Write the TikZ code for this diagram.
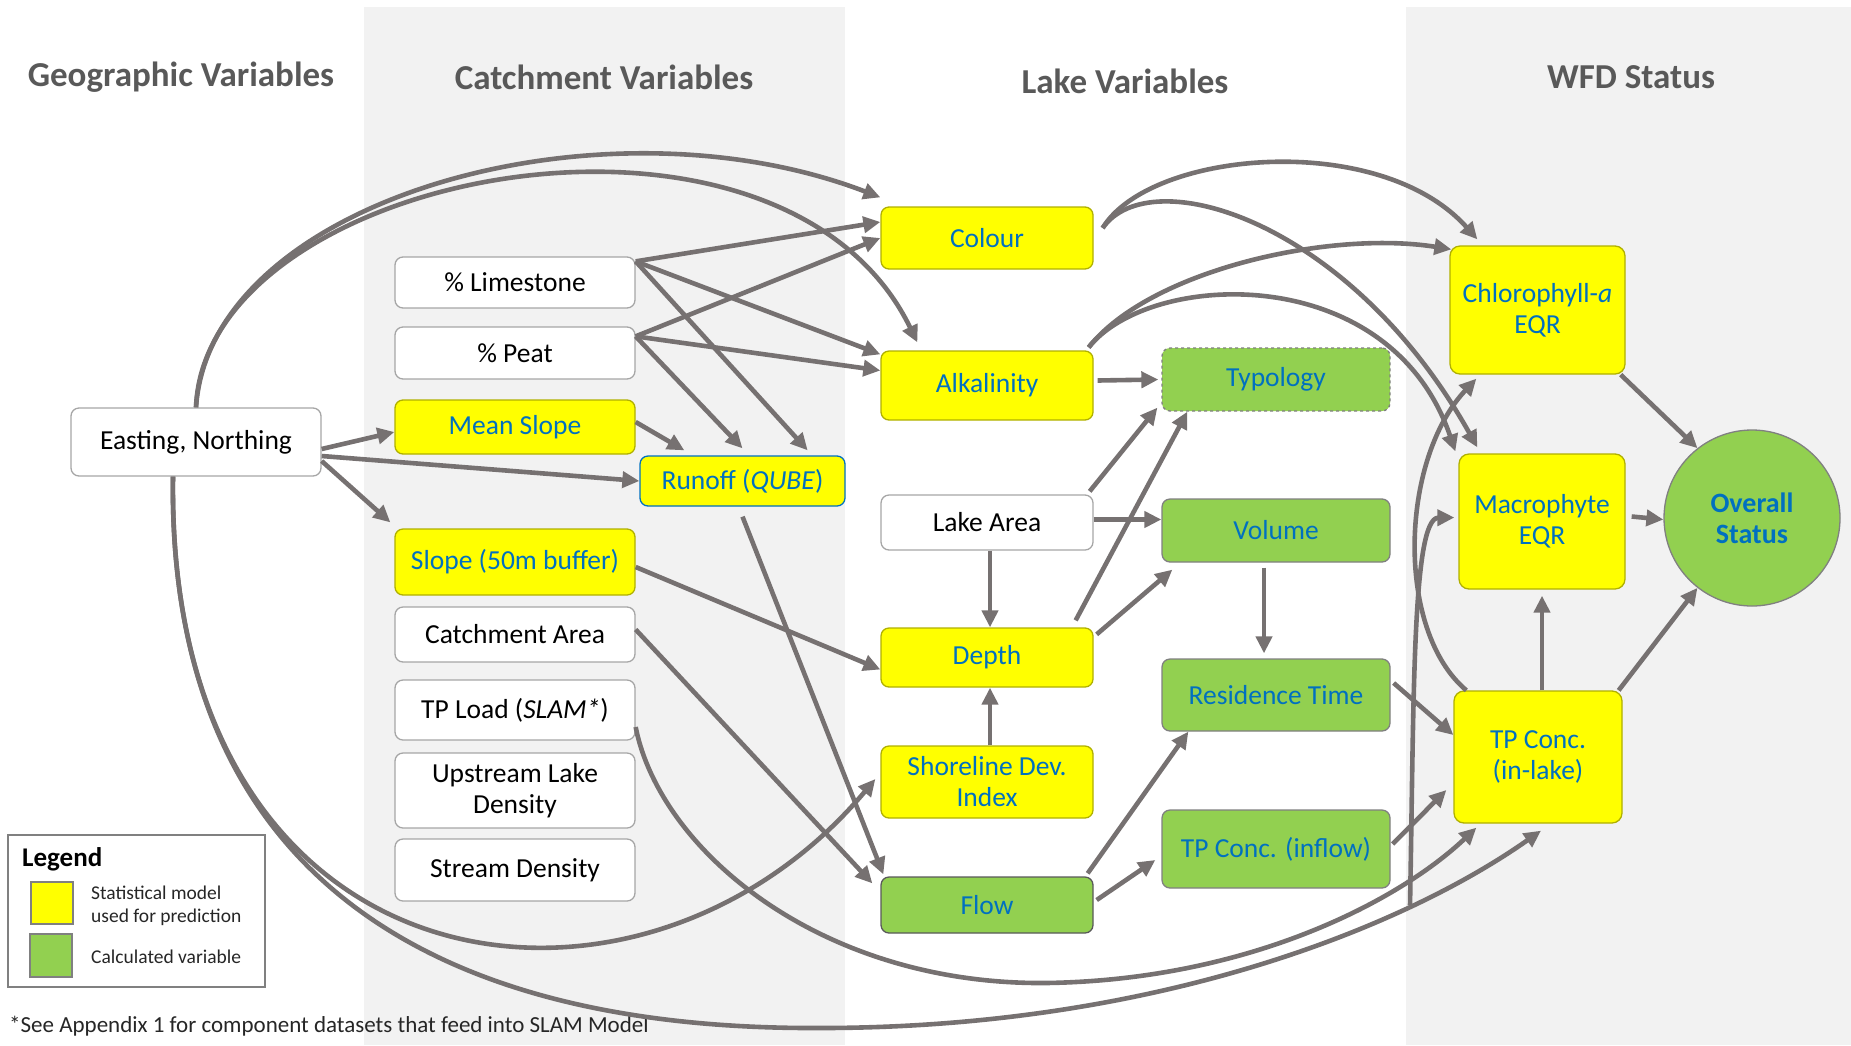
\documentclass[tikz,border=0pt]{standalone}
\usepackage{fontspec}
\setmainfont{Carlito}
\usetikzlibrary{arrows.meta}
\definecolor{agray}{HTML}{767171}
\definecolor{band}{HTML}{F2F2F2}
\definecolor{yel}{HTML}{FFFF00}
\definecolor{grn}{HTML}{92D050}
\definecolor{tblue}{HTML}{0070C0}
\definecolor{wborder}{HTML}{A6A6A6}
\definecolor{yborder}{HTML}{B0B000}
\definecolor{gborder}{HTML}{808080}
\definecolor{ttl}{HTML}{595959}
\definecolor{dtext}{HTML}{262626}
\begin{document}
\begin{tikzpicture}[x=1pt,y=-1pt,
  box/.style={rounded corners=8pt, inner sep=2pt, align=center, line width=1.3pt, font=\fontsize{27.5}{31}\selectfont},
  wbox/.style={box, draw=wborder, fill=white, text=black},
  ybox/.style={box, draw=yborder, fill=yel, text=tblue},
  gbox/.style={box, draw=gborder, fill=grn, text=tblue},
  sz/.style 2 args={minimum width=#1pt, minimum height=#2pt},
  arr/.style={draw=agray, line width=4.6pt, -{Triangle[length=17pt,width=16pt]}},
  title/.style={font=\fontsize{35}{40}\selectfont\bfseries, text=ttl, inner sep=0pt},
  leg/.style={font=\fontsize{19.5}{23}\selectfont, text=dtext, inner sep=0pt, anchor=west, align=left}
]
\useasboundingbox (0,0) rectangle (1851,1045);
% background bands
\fill[band] (364,7) rectangle (845,1045);
\fill[band] (1406,7) rectangle (1851,1045);
% titles
\node[title] (t1) at (181,77) {Geographic Variables};
\node[title] (t2) at (604,77) {Catchment Variables};
\node[title] (t3) at (1125,81) {Lake Variables};
\node[title] (t4) at (1631,77) {WFD Status};
% geographic
\node[wbox, sz={250}{68}] (east) at (196,442) {Easting, Northing};
% catchment
\node[wbox, sz={240}{51}] (lime) at (515,282.5) {\% Limestone};
\node[wbox, sz={240}{52}] (peat) at (515,353) {\% Peat};
\node[ybox, sz={240}{54}] (mslope) at (515,427) {Mean Slope};
\node[ybox, draw=tblue, sz={205}{50}] (runoff) at (742.5,481) {Runoff (\textit{QUBE})};
\node[ybox, sz={240}{66}] (slope50) at (515,562) {Slope (50m buffer)};
\node[wbox, sz={240}{55}] (carea) at (515,634.5) {Catchment Area};
\node[wbox, sz={240}{60}] (tpload) at (515,710) {TP Load (\textit{SLAM*})};
\node[wbox, sz={240}{75}] (upl) at (515,790.5) {Upstream Lake\\Density};
\node[wbox, sz={240}{62}] (stream) at (515,870) {Stream Density};
% lake
\node[ybox, sz={212}{62}] (colour) at (987,238) {Colour};
\node[ybox, sz={212}{69}] (alk) at (987,385.5) {Alkalinity};
\node[wbox, sz={212}{55}] (lakearea) at (987,522.5) {Lake Area};
\node[ybox, sz={212}{59}] (depth) at (987,657.5) {Depth};
\node[ybox, sz={212}{72}] (shore) at (987,782) {Shoreline Dev.\\Index};
\node[gbox, draw=ttl, sz={212}{56}] (flow) at (987,905) {Flow};
\node[gbox, dashed, sz={228}{63}] (typo) at (1276,379.5) {Typology};
\node[gbox, sz={228}{63}] (volume) at (1276,530.5) {Volume};
\node[gbox, sz={228}{72}] (rest) at (1276,695) {Residence Time};
\node[gbox, sz={228}{78}] (tpin) at (1276,849) {TP Conc. (inflow)};
% WFD
\node[ybox, rounded corners=10pt, sz={175}{128}] (chl) at (1537.5,310) {Chlorophyll-\textit{a}\\EQR};
\node[ybox, rounded corners=10pt, sz={166}{135}] (mac) at (1542,521.5) {Macrophyte\\EQR};
\node[ybox, rounded corners=10pt, sz={168}{132}] (tplake) at (1538,757) {TP Conc.\\(in-lake)};
\node[circle, draw=gborder, line width=1.3pt, fill=grn, text=tblue, minimum size=176pt, inner sep=0pt, align=center, font=\fontsize{28}{31}\selectfont\bfseries] (overall) at (1752,518) {Overall\\Status};
% legend
\node[draw=gborder, line width=1.2pt, fill=white, minimum width=257pt, minimum height=152pt, inner sep=0pt] (legend) at (136.5,911) {};
\node[leg, font=\fontsize{27}{30}\selectfont\bfseries, text=black] (legt) at (22,859) {Legend};
\node[draw=gborder, line width=1.2pt, fill=yel, minimum width=42pt, minimum height=42pt, inner sep=0pt] (lyel) at (52,903) {};
\node[draw=gborder, line width=1.2pt, fill=grn, minimum width=42pt, minimum height=43pt, inner sep=0pt] (lgrn) at (51,955.5) {};
\node[leg] (ltxt1) at (91,906) {Statistical model\\used for prediction};
\node[leg] (ltxt2) at (91,957) {Calculated variable};
\node[leg, font=\fontsize{23}{26}\selectfont] (foot) at (9,1026) {*See Appendix 1 for component datasets that feed into SLAM Model};
% straight connectors
\draw[arr] ([yshift=-7pt]east.east) -- ([yshift=-5pt]mslope.west);
\draw[arr] ([yshift=-14pt]east.east) -- (runoff.west);
\draw[arr] ([yshift=-19pt]east.east) -- ([xshift=-4pt,yshift=6pt]slope50.north west);
\draw[arr] ([yshift=-5pt]lime.north east) -- ([yshift=16pt]colour.west);
\draw[arr] ([yshift=-5pt]lime.north east) -- ([yshift=-4pt]alk.north west);
\draw[arr] ([yshift=-5pt]lime.north east) -- ([xshift=-38pt,yshift=5pt]runoff.north east);
\draw[arr] ([yshift=-10pt]peat.north east) -- (colour.west);
\draw[arr] ([yshift=-10pt]peat.north east) -- ([yshift=15pt]alk.west);
\draw[arr] ([yshift=-10pt]peat.north east) -- ([yshift=7pt]runoff.north);
\draw[arr] ([yshift=5pt]mslope.east) -- ([xshift=45pt,yshift=5pt]runoff.north west);
\draw[arr] ([yshift=-10pt]runoff.south) -- ([xshift=3pt,yshift=2pt]flow.north west);
\draw[arr] ([yshift=-5pt]slope50.east) -- ([yshift=-12pt]depth.west);
\draw[arr] ([yshift=5pt]carea.east) -- ([xshift=-8pt,yshift=-7pt]flow.north west);
\draw[arr] ([xshift=3pt]lakearea.south) -- ([xshift=3pt]depth.north);
\draw[arr] ([xshift=3pt]shore.north) -- ([xshift=3pt]depth.south);
\draw[arr] ([yshift=3pt]lakearea.east) -- ([yshift=11pt]volume.west);
\draw[arr] ([xshift=-4pt,yshift=3pt]lakearea.north east) -- ([xshift=-4pt,yshift=4pt]typo.south west);
\draw[arr] ([xshift=-18pt,yshift=7pt]depth.north east) -- ([xshift=26pt]typo.south west);
\draw[arr] ([xshift=3pt,yshift=-7pt]depth.north east) -- ([xshift=11pt,yshift=-7pt]volume.south west);
\draw[arr] ([xshift=4pt,yshift=5pt]alk.east) -- ([xshift=-3pt]typo.west);
\draw[arr] ([xshift=-12pt,yshift=-5pt]volume.south) -- ([xshift=-12pt,yshift=5pt]rest.north);
\draw[arr] ([xshift=-6pt,yshift=3pt]flow.north east) -- ([xshift=27pt]rest.south west);
\draw[arr] ([xshift=3pt,yshift=5pt]flow.east) -- ([xshift=-6pt,yshift=-11pt]tpin.west);
\draw[arr] ([xshift=3pt,yshift=12pt]rest.east) -- ([yshift=22pt]tplake.west);
\draw[arr] ([xshift=2pt,yshift=5pt]tpin.east) -- ([xshift=-7pt,yshift=-33pt]tplake.west);
\draw[arr] ([xshift=4pt]tplake.north) -- ([yshift=-6pt]mac.south);
\draw[arr] ([xshift=-4pt]tplake.north east) -- (overall.232);
\draw[arr] ([xshift=-5pt]chl.south east) -- (overall.128);
\draw[arr] ([xshift=6pt,yshift=5pt]mac.east) -- (overall.181);
% curved connectors
\draw[arr] (east.north) .. controls (210,200) and (600,90) .. ([yshift=9pt]colour.north west);
\draw[arr] (east.north) .. controls (205,170) and (780,60) .. ([xshift=37pt,yshift=8pt]alk.north west);
\draw[arr] ([xshift=-23pt]east.south) .. controls (165,1000) and (640,1060) .. ([xshift=-5pt,yshift=3pt]shore.west);
\draw[arr] ([xshift=-23pt]east.south) .. controls (168,850) and (400,1030) .. (820,1028) .. controls (1150,1028) and (1400,930) .. ([xshift=3pt,yshift=-7pt]tplake.south);
\coordinate (br) at (1410,905);
\draw[arr] (br) .. controls (1414,700) and (1412,518) .. ([xshift=-4pt,yshift=4pt]mac.west);
\draw[arr] ([yshift=-17pt]tpload.east) .. controls (660,850) and (820,985) .. (1046,983) .. controls (1250,980) and (1400,900) .. ([xshift=23pt,yshift=-4pt]tplake.south west);
\draw[arr] ([xshift=13pt]tplake.north west) .. controls (1395,630) and (1400,460) .. ([xshift=27pt,yshift=-4pt]chl.south west);
\draw[arr] ([xshift=9pt,yshift=10pt]colour.east) .. controls (1150,150) and (1380,130) .. ([xshift=28pt,yshift=6pt]chl.north west);
\draw[arr] ([xshift=9pt,yshift=10pt]colour.east) .. controls (1150,160) and (1350,220) .. ([xshift=19pt,yshift=6pt]mac.north west);
\draw[arr] ([xshift=-5pt,yshift=3pt]alk.north east) .. controls (1150,270) and (1330,230) .. ([xshift=2pt,yshift=-4pt]chl.north west);
\draw[arr] ([xshift=-5pt,yshift=3pt]alk.north east) .. controls (1150,270) and (1390,260) .. ([xshift=-3pt,yshift=2pt]mac.north west);
\end{tikzpicture}
\end{document}
